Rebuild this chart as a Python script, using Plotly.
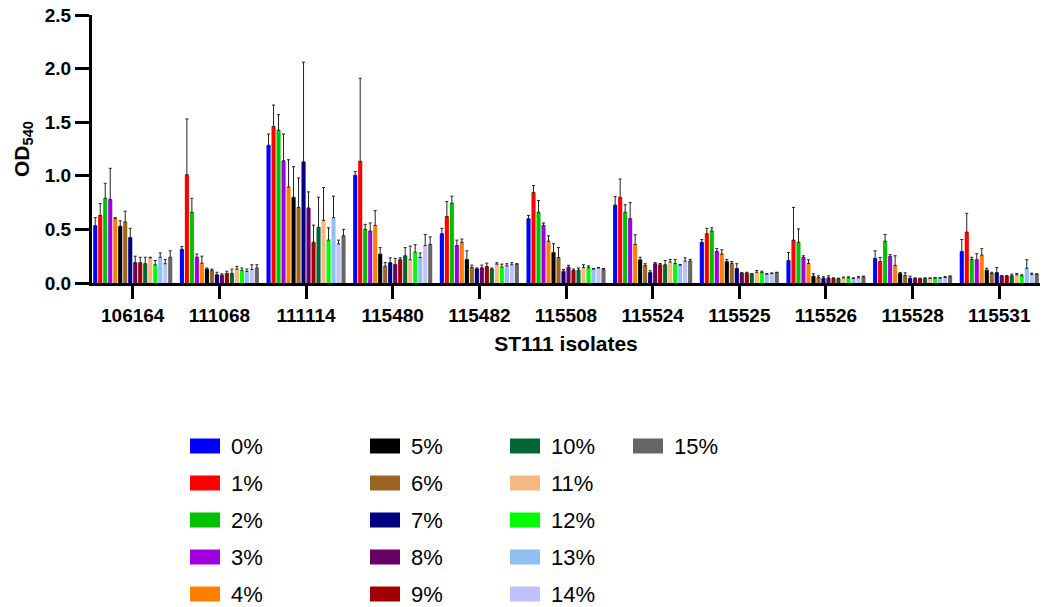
import plotly.graph_objects as go

# ST111 isolates on the x axis
isolates = ["106164", "111068", "111114", "115480", "115482", "115508",
            "115524", "115525", "115526", "115528", "115531"]

# Concentration series
conc_labels = ["0%", "1%", "2%", "3%", "4%", "5%", "6%", "7%",
               "8%", "9%", "10%", "11%", "12%", "13%", "14%", "15%"]

# Mean OD540 per isolate for each concentration
od_00 = [0.535, 0.315, 1.285, 1.005, 0.46, 0.60, 0.727, 0.38, 0.21, 0.23, 0.294]
od_01 = [0.63, 1.01, 1.46, 1.135, 0.62, 0.845, 0.80, 0.46, 0.40, 0.20, 0.475]
od_02 = [0.79, 0.66, 1.425, 0.50, 0.745, 0.66, 0.66, 0.485, 0.38, 0.39, 0.22]
od_03 = [0.78, 0.24, 1.14, 0.485, 0.35, 0.537, 0.60, 0.294, 0.238, 0.248, 0.217]
od_04 = [0.60, 0.185, 0.895, 0.537, 0.38, 0.39, 0.36, 0.27, 0.182, 0.164, 0.26]
od_05 = [0.53, 0.13, 0.80, 0.27, 0.22, 0.285, 0.217, 0.20, 0.064, 0.089, 0.12]
od_06 = [0.57, 0.117, 0.705, 0.157, 0.145, 0.238, 0.164, 0.182, 0.05, 0.07, 0.089]
od_07 = [0.425, 0.077, 1.13, 0.19, 0.133, 0.11, 0.098, 0.135, 0.045, 0.045, 0.098]
od_08 = [0.19, 0.073, 0.70, 0.173, 0.142, 0.148, 0.18, 0.092, 0.048, 0.042, 0.064]
od_09 = [0.19, 0.09, 0.38, 0.217, 0.154, 0.117, 0.17, 0.092, 0.042, 0.042, 0.064]
od_10 = [0.18, 0.09, 0.52, 0.254, 0.13, 0.12, 0.17, 0.082, 0.04, 0.042, 0.067]
od_11 = [0.235, 0.13, 0.585, 0.217, 0.176, 0.145, 0.195, 0.10, 0.048, 0.042, 0.076]
od_12 = [0.17, 0.117, 0.40, 0.288, 0.148, 0.142, 0.182, 0.097, 0.048, 0.045, 0.067]
od_13 = [0.24, 0.107, 0.61, 0.238, 0.16, 0.13, 0.167, 0.082, 0.042, 0.045, 0.138]
od_14 = [0.18, 0.126, 0.365, 0.35, 0.17, 0.14, 0.204, 0.088, 0.048, 0.051, 0.079]
od_15 = [0.24, 0.14, 0.44, 0.36, 0.176, 0.13, 0.204, 0.097, 0.058, 0.058, 0.082]

# Standard deviations (upper error bars)
sd_00 = [0.075, 0.025, 0.105, 0.035, 0.05, 0.03, 0.078, 0.025, 0.075, 0.07, 0.111]
sd_01 = [0.11, 0.52, 0.20, 0.775, 0.14, 0.065, 0.17, 0.05, 0.305, 0.038, 0.175]
sd_02 = [0.14, 0.13, 0.145, 0.047, 0.065, 0.11, 0.07, 0.03, 0.125, 0.063, 0.02]
sd_03 = [0.29, 0.03, 0.25, 0.075, 0.05, 0.023, 0.15, 0.026, 0.016, 0.016, 0.056]
sd_04 = [0.01, 0.065, 0.255, 0.138, 0.03, 0.05, 0.09, 0.04, 0.035, 0.09, 0.06]
sd_05 = [0.05, 0.01, 0.285, 0.06, 0.08, 0.081, 0.023, 0.02, 0.022, 0.009, 0.018]
sd_06 = [0.10, 0.013, 0.275, 0.033, 0.022, 0.092, 0.016, 0.018, 0.017, 0.025, 0.011]
sd_07 = [0.085, 0.023, 0.93, 0.045, 0.007, 0.016, 0.016, 0.045, 0.013, 0.019, 0.047]
sd_08 = [0.06, 0.012, 0.15, 0.057, 0.025, 0.017, 0.01, 0.005, 0.019, 0.006, 0.006]
sd_09 = [0.05, 0.02, 0.16, 0.018, 0.031, 0.013, 0.012, 0.008, 0.006, 0.003, 0.006]
sd_10 = [0.06, 0.04, 0.28, 0.076, 0.01, 0.02, 0.04, 0.006, 0.005, 0.006, 0.015]
sd_11 = [0.005, 0.025, 0.305, 0.127, 0.013, 0.025, 0.025, 0.017, 0.007, 0.006, 0.013]
sd_12 = [0.04, 0.023, 0.115, 0.069, 0.028, 0.018, 0.038, 0.013, 0.01, 0.005, 0.009]
sd_13 = [0.04, 0.023, 0.20, 0.042, 0.02, 0.005, 0.006, 0.006, 0.006, 0.005, 0.079]
sd_14 = [0.04, 0.044, 0.035, 0.103, 0.02, 0.005, 0.031, 0.006, 0.012, 0.009, 0.013]
sd_15 = [0.06, 0.03, 0.06, 0.07, 0.004, 0.005, 0.016, 0.003, 0.006, 0.009, 0.004]

means = [od_00, od_01, od_02, od_03, od_04, od_05, od_06, od_07,
         od_08, od_09, od_10, od_11, od_12, od_13, od_14, od_15]
sds = [sd_00, sd_01, sd_02, sd_03, sd_04, sd_05, sd_06, sd_07,
       sd_08, sd_09, sd_10, sd_11, sd_12, sd_13, sd_14, sd_15]

colors = ["#0000FF", "#FF0000", "#00C000", "#A000E0", "#FF8000", "#000000",
          "#9B6420", "#000080", "#660066", "#A00000", "#006633", "#F4B982",
          "#00FF00", "#8EBFF5", "#C0C0FF", "#666666"]

FONT = "Arial, Liberation Sans, sans-serif"

fig = go.Figure()
for label, y, e, c in zip(conc_labels, means, sds, colors):
    fig.add_trace(go.Bar(
        x=isolates, y=y, name=label, marker_color=c, marker_line_width=0,
        showlegend=False,
        error_y=dict(type="data", array=e, arrayminus=[0] * len(e),
                     symmetric=False, color="#222222", thickness=1, width=1.5),
    ))

# Plot area geometry in pixels
W, H = 1046, 607
L, R, T, B = 92, 6, 15, 324
pw, ph = W - L - R, H - T - B


def px_x(x):
    return (x - L) / pw


def px_y(y):
    return (H - B - y) / ph


# Column-wise legend: 5 rows per column
col_sw = [190, 370, 510, 633]
row_y = [446, 483, 520, 557, 594]
shapes = []
annotations = []
for i, (label, c) in enumerate(zip(conc_labels, colors)):
    col, row = divmod(i, 5)
    x0 = col_sw[col]
    yc = row_y[row]
    shapes.append(dict(type="rect", xref="paper", yref="paper",
                       x0=px_x(x0), x1=px_x(x0 + 30),
                       y0=px_y(yc + 7.5), y1=px_y(yc - 7.5),
                       fillcolor=c, line_width=0))
    annotations.append(dict(text=label, xref="paper", yref="paper",
                            x=px_x(x0 + 39), y=px_y(yc), xanchor="left",
                            yanchor="middle", showarrow=False,
                            font=dict(family=FONT, size=22, color="#000")))

fig.update_layout(
    width=W, height=H,
    margin=dict(l=L, r=R, t=T, b=B),
    plot_bgcolor="white", paper_bgcolor="white",
    barmode="group", bargap=0.077, bargroupgap=0.18,
    shapes=shapes, annotations=annotations,
    font=dict(family=FONT, color="#000"),
    xaxis=dict(
        range=[-0.47, 10.47], showline=True, linecolor="#000", linewidth=3,
        ticks="outside", ticklen=13, tickwidth=3, tickcolor="#000",
        tickfont=dict(size=19, family=FONT, weight="bold"),
        title=dict(text="ST111 isolates", standoff=12,
                   font=dict(size=21, family=FONT, weight="bold")),
        showgrid=False, zeroline=False,
    ),
    yaxis=dict(
        range=[0, 2.5], dtick=0.5, tickformat=".1f",
        showline=True, linecolor="#000", linewidth=3,
        ticks="outside", ticklen=14, tickwidth=3, tickcolor="#000",
        tickfont=dict(size=19, family=FONT, weight="bold"),
        title=dict(text="OD<sub>540</sub>", standoff=10,
                   font=dict(size=21, family=FONT, weight="bold")),
        showgrid=False, zeroline=False,
    ),
)

fig.write_html("out.html")
